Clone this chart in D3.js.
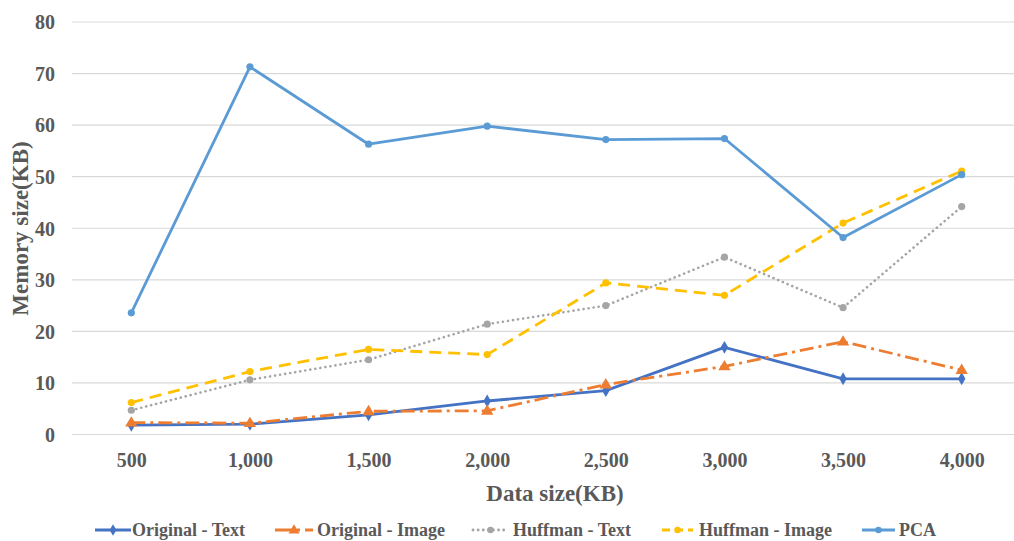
<!DOCTYPE html>
<html>
<head>
<meta charset="utf-8">
<script src="https://cdn.jsdelivr.net/npm/d3@7"></script>
<style>
  html, body { margin: 0; padding: 0; background: #fff; }
  svg { display: block; }
  text { font-family: "Liberation Serif", "Times New Roman", serif; font-weight: bold; fill: #595959; }
</style>
</head>
<body>
<svg id="chart" width="1014" height="541"></svg>
<script>
// Data sizes on the x axis (KB)
const categories = [500, 1000, 1500, 2000, 2500, 3000, 3500, 4000];
const yTicks = [0, 10, 20, 30, 40, 50, 60, 70, 80];

// Memory size (KB) per series
const originalText  = [1.8, 2.0, 3.8, 6.5, 8.5, 16.9, 10.8, 10.8];
const originalImage = [2.3, 2.2, 4.5, 4.6, 9.7, 13.2, 18.0, 12.5];
const huffmanText   = [4.7, 10.6, 14.5, 21.4, 25.0, 34.4, 24.6, 44.2];
const huffmanImage  = [6.2, 12.2, 16.5, 15.5, 29.4, 27.0, 41.0, 51.1];
const pca           = [23.6, 71.3, 56.3, 59.8, 57.2, 57.4, 38.2, 50.4];

const seriesNames = ["Original - Text", "Original - Image", "Huffman - Text", "Huffman - Image", "PCA"];

const series = [
  { name: seriesNames[0], values: originalText,  color: "#4472C4", dash: null,          cap: "butt",  marker: "diamond" },
  { name: seriesNames[1], values: originalImage, color: "#ED7D31", dash: "14,5,3,5",    cap: "butt",  marker: "triangle" },
  { name: seriesNames[2], values: huffmanText,   color: "#A5A5A5", dash: "0.1,5",       cap: "round", marker: "circle" },
  { name: seriesNames[3], values: huffmanImage,  color: "#FFC000", dash: "12,7",        cap: "butt",  marker: "circle" },
  { name: seriesNames[4], values: pca,           color: "#5B9BD5", dash: null,          cap: "butt",  marker: "circle" }
];

const svg = d3.select("#chart");
const W = 1014, H = 541;

const x = d3.scalePoint().domain(categories).range([72, 1021]).padding(0.5);
const y = d3.scaleLinear().domain([0, 80]).range([434.5, 22]);

// Horizontal gridlines
svg.append("g")
  .selectAll("line")
  .data(yTicks)
  .join("line")
  .attr("x1", 72).attr("x2", W)
  .attr("y1", d => y(d)).attr("y2", d => y(d))
  .attr("stroke", "#d9d9d9").attr("stroke-width", 1.2);

// Y axis labels
const yAxis = d3.axisLeft(y).tickValues(yTicks).tickSize(0).tickPadding(0);
const gy = svg.append("g").attr("transform", "translate(55,0)").call(yAxis);
gy.select(".domain").remove();
gy.selectAll("text").attr("font-size", 20).attr("dy", "0.34em").attr("fill", "#595959")
  .style("font-family", "'Liberation Serif', serif").style("font-weight", "bold");

// X axis labels
const xAxis = d3.axisBottom(x).tickSize(0).tickPadding(0).tickFormat(d3.format(","));
const gx = svg.append("g").attr("transform", "translate(0,467)").call(xAxis);
gx.select(".domain").remove();
gx.selectAll("text").attr("font-size", 20).attr("dy", 0).attr("y", 0).attr("fill", "#595959")
  .style("font-family", "'Liberation Serif', serif").style("font-weight", "bold");

// Axis titles
svg.append("text")
  .attr("x", 555).attr("y", 501)
  .attr("text-anchor", "middle").attr("font-size", 23)
  .text("Data size(KB)");

svg.append("text")
  .attr("transform", "translate(28,228.5) rotate(-90)")
  .attr("text-anchor", "middle").attr("font-size", 23)
  .text("Memory size(KB)");

// Marker drawing helper
function drawMarker(g, type, color, cx, cy, scale) {
  const s = scale || 1;
  if (type === "circle") {
    g.append("circle").attr("cx", cx).attr("cy", cy).attr("r", 3.6 * s).attr("fill", color);
  } else if (type === "diamond") {
    g.append("path").attr("d", d3.symbol(d3.symbolDiamond, 48 * s * s)())
      .attr("transform", `translate(${cx},${cy})`).attr("fill", color);
  } else if (type === "triangle") {
    const r = 6.5 * s;
    g.append("path")
      .attr("d", `M${cx},${cy - r}L${cx + r * 0.95},${cy + r * 0.6}L${cx - r * 0.95},${cy + r * 0.6}Z`)
      .attr("fill", color);
  }
}

const line = d3.line().x((d, i) => x(categories[i])).y(d => y(d));

const plot = svg.append("g");
series.forEach(s => {
  const g = plot.append("g");
  g.append("path")
    .datum(s.values)
    .attr("d", line)
    .attr("fill", "none")
    .attr("stroke", s.color)
    .attr("stroke-width", s.marker === "circle" && s.dash === "0.1,5" ? 2.6 : 2.8)
    .attr("stroke-linejoin", "round")
    .attr("stroke-linecap", s.cap)
    .attr("stroke-dasharray", s.dash);
  s.values.forEach((v, i) => drawMarker(g, s.marker, s.color, x(categories[i]), y(v)));
});

// Legend
const legendY = 530;
const legendItems = [
  { x0: 95,  x1: 131, tx: 132 },
  { x0: 275, x1: 313, tx: 317 },
  { x0: 473, x1: 508, tx: 513 },
  { x0: 662, x1: 693, tx: 699 },
  { x0: 862, x1: 895, tx: 899 }
];
const legend = svg.append("g");
series.forEach((s, i) => {
  const it = legendItems[i];
  const g = legend.append("g");
  g.append("line")
    .attr("x1", it.x0).attr("x2", it.x1).attr("y1", legendY).attr("y2", legendY)
    .attr("stroke", s.color).attr("stroke-width", 2.8)
    .attr("stroke-linecap", s.cap)
    .attr("stroke-dasharray", s.dash === "12,7" ? "8,5" : (s.dash === "14,5,3,5" ? "17,5,3,5" : s.dash));
  drawMarker(g, s.marker, s.color, (it.x0 + it.x1) / 2, legendY, 0.9);
  g.append("text")
    .attr("x", it.tx).attr("y", legendY + 6)
    .attr("font-size", 18)
    .text(s.name);
});
</script>
</body>
</html>
